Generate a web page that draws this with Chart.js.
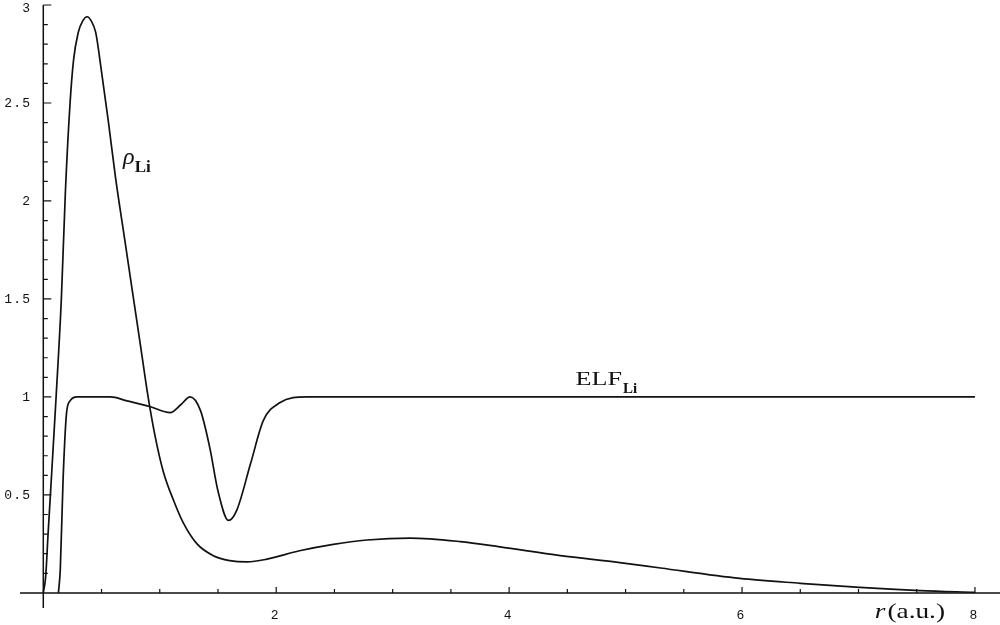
<!DOCTYPE html>
<html>
<head>
<meta charset="utf-8">
<script src="https://cdn.jsdelivr.net/npm/chart.js@4"></script>
<style>
  html, body { margin: 0; padding: 0; background: #fff; }
  #wrap { width: 1000px; height: 625px; }
</style>
</head>
<body>
<div id="wrap"><canvas id="chart" width="1000" height="625"></canvas></div>
<script>
// electron density of Li (r in a.u.)
const rhoR = [0, 0.02, 0.04, 0.06, 0.11, 0.155, 0.19, 0.23, 0.26, 0.30, 0.34, 0.377, 0.41, 0.45, 0.50, 0.56, 0.62, 0.70, 0.77, 0.84, 0.90, 0.96, 1.03, 1.12, 1.2, 1.32, 1.46, 1.6, 1.75, 1.92, 2.2, 2.49, 2.78, 3.15, 3.58, 3.92, 4.44, 4.95, 5.3, 5.98, 6.5, 7.01, 7.53, 8.0];
const rhoVal = [0, 0.08, 0.29, 0.49, 1.0, 1.5, 2.05, 2.5, 2.72, 2.86, 2.92, 2.94, 2.92, 2.86, 2.66, 2.40, 2.12, 1.80, 1.52, 1.24, 1.0, 0.80, 0.62, 0.47, 0.36, 0.25, 0.19, 0.165, 0.158, 0.172, 0.215, 0.248, 0.27, 0.28, 0.262, 0.235, 0.19, 0.155, 0.127, 0.074, 0.049, 0.028, 0.012, 0.003];

// ELF of Li
const elfR = [0.13, 0.146, 0.17, 0.2, 0.23, 0.29, 0.575, 0.72, 0.92, 1.09, 1.18, 1.26, 1.35, 1.43, 1.5, 1.59, 1.66, 1.78, 1.89, 2.03, 2.26, 8.0];
const elfVal = [0, 0.12, 0.58, 0.92, 0.98, 1.0, 1.0, 0.98, 0.95, 0.92, 0.96, 1.0, 0.93, 0.74, 0.52, 0.37, 0.42, 0.66, 0.88, 0.97, 1.0, 1.0];

// axis ticks
const xMajor = [2, 4, 6, 8];
const xMinor = [0.5, 1, 1.5, 2.5, 3, 3.5, 4.5, 5, 5.5, 6.5, 7, 7.5];
const xLabels = ['2', '4', '6', '8'];
const yMajor = [0.5, 1, 1.5, 2, 2.5, 3];
const yMinor = [0.1, 0.2, 0.3, 0.4, 0.6, 0.7, 0.8, 0.9, 1.1, 1.2, 1.3, 1.4, 1.6, 1.7, 1.8, 1.9, 2.1, 2.2, 2.3, 2.4, 2.6, 2.7, 2.8, 2.9];
const yLabels = ['0.5', '1', '1.5', '2', '2.5', '3'];

const INK = '#111';

// axes drawn Mathematica-style through the origin
const axesPlugin = {
    id: 'axes',
    afterDraw(chart) {
        const ctx = chart.ctx;
        const xs = chart.scales.x, ys = chart.scales.y;
        const area = chart.chartArea;
        const x0 = xs.getPixelForValue(0);
        const y0 = ys.getPixelForValue(0);

        ctx.save();
        ctx.strokeStyle = INK;
        ctx.lineWidth = 1.5;
        ctx.beginPath();
        ctx.moveTo(area.left, y0);
        ctx.lineTo(area.right, y0);
        ctx.moveTo(x0, area.top);
        ctx.lineTo(x0, area.bottom);
        ctx.stroke();

        ctx.lineWidth = 1.2;
        ctx.beginPath();
        xMajor.forEach(v => { const p = xs.getPixelForValue(v); ctx.moveTo(p, y0); ctx.lineTo(p, y0 - 6); });
        xMinor.forEach(v => { const p = xs.getPixelForValue(v); ctx.moveTo(p, y0); ctx.lineTo(p, y0 - 4); });
        yMajor.forEach(v => { const p = ys.getPixelForValue(v); ctx.moveTo(x0, p); ctx.lineTo(x0 + 8, p); });
        yMinor.forEach(v => { const p = ys.getPixelForValue(v); ctx.moveTo(x0, p); ctx.lineTo(x0 + 4.5, p); });
        ctx.stroke();

        // tick labels
        ctx.fillStyle = INK;
        ctx.font = '13px "Liberation Mono", monospace';
        ctx.letterSpacing = '1.2px';
        ctx.textBaseline = 'middle';
        ctx.textAlign = 'right';
        yMajor.forEach((v, i) => {
            const p = Math.max(ys.getPixelForValue(v), 8);
            ctx.fillText(yLabels[i], x0 - 12, p + 1);
        });
        ctx.textAlign = 'center';
        xMajor.forEach((v, i) => {
            ctx.fillText(xLabels[i], xs.getPixelForValue(v) - 1, y0 + 23);
        });
        ctx.letterSpacing = '0px';

        // curve labels
        ctx.textAlign = 'left';
        ctx.textBaseline = 'alphabetic';
        const wideText = (txt, px, py, font, sx) => {
            ctx.save();
            ctx.font = font;
            ctx.translate(px, py);
            ctx.scale(sx, 1);
            ctx.fillText(txt, 0, 0);
            const w = ctx.measureText(txt).width * sx;
            ctx.restore();
            return w;
        };

        let px = xs.getPixelForValue(0.685), py = ys.getPixelForValue(2.19);
        let w = wideText('\u03C1', px, py, 'italic 23px "Liberation Serif", serif', 1.05);
        wideText('Li', px + w, py + 8, 'bold 17px "Liberation Serif", serif', 1.0);

        px = xs.getPixelForValue(4.57); py = ys.getPixelForValue(1.06);
        w = wideText('ELF', px, py, '18px "Liberation Serif", serif', 1.45);
        wideText('Li', px + w + 1, py + 8, 'bold 15px "Liberation Serif", serif', 1.0);

        px = xs.getPixelForValue(7.14); py = y0 + 25;
        w = wideText('r', px, py, 'italic 21px "Liberation Serif", serif', 1.3);
        wideText('(a.u.)', px + w + 2, py, '21px "Liberation Serif", serif', 1.3);
        ctx.restore();
    }
};

const toPoints = (xsArr, ysArr) => xsArr.map((v, i) => ({ x: v, y: ysArr[i] }));

new Chart(document.getElementById('chart').getContext('2d'), {
    type: 'line',
    data: {
        datasets: [
            { label: 'rho', data: toPoints(rhoR, rhoVal), borderColor: INK, borderWidth: 1.7, pointRadius: 0, cubicInterpolationMode: 'monotone', fill: false },
            { label: 'ELF', data: toPoints(elfR, elfVal), borderColor: INK, borderWidth: 1.7, pointRadius: 0, cubicInterpolationMode: 'monotone', fill: false }
        ]
    },
    options: {
        responsive: false,
        animation: false,
        devicePixelRatio: 1,
        layout: { padding: { left: 20, right: 0, top: 5, bottom: 17 } },
        plugins: { legend: { display: false }, tooltip: { enabled: false } },
        scales: {
            x: { type: 'linear', min: -0.2, max: 8.215, display: false },
            y: { type: 'linear', min: -0.077, max: 3.0, display: false }
        }
    },
    plugins: [axesPlugin]
});
</script>
</body>
</html>
